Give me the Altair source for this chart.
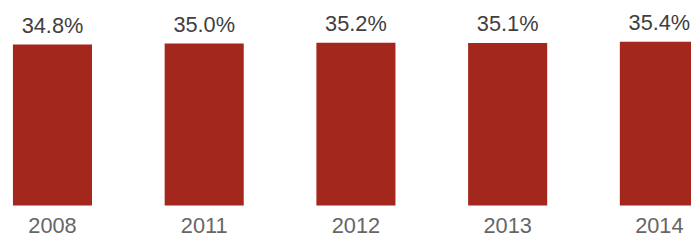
import altair as alt
import pandas as pd

years = ["2008", "2011", "2012", "2013", "2014"]
values = [34.8, 35.0, 35.2, 35.1, 35.4]
labels = ["34.8%", "35.0%", "35.2%", "35.1%", "35.4%"]

df = pd.DataFrame({"year": years, "value": values, "label": labels})

x = alt.X(
    "year:N",
    sort=years,
    scale=alt.Scale(paddingInner=0.6, paddingOuter=0.0508, align=0.9167, round=False),
    axis=alt.Axis(
        title=None, domain=False, ticks=False, grid=False, labelAngle=0,
        labelFont="Liberation Sans", labelFontSize=22, labelColor="#666666",
        labelPadding=10,
    ),
)
y = alt.Y("value:Q", scale=alt.Scale(domain=[0, 42.4], nice=False), axis=None)

bars = alt.Chart(df).mark_bar(color="#A3271C", width=80).encode(x=x, y=y)
text = alt.Chart(df).mark_text(
    baseline="alphabetic", dy=-12, font="Liberation Sans", fontSize=22, color="#404040"
).encode(x=x, y=y, text="label:N")

chart = (
    alt.layer(bars, text)
    .properties(
        width=691, height=198.5,
        autosize=alt.AutoSizeParams(type="none"),
        padding={"top": 0, "left": 0, "right": 0, "bottom": 30},
    )
    .configure_view(stroke=None)
)

chart.save("out.html", embed_options={"renderer": "svg", "actions": False})
